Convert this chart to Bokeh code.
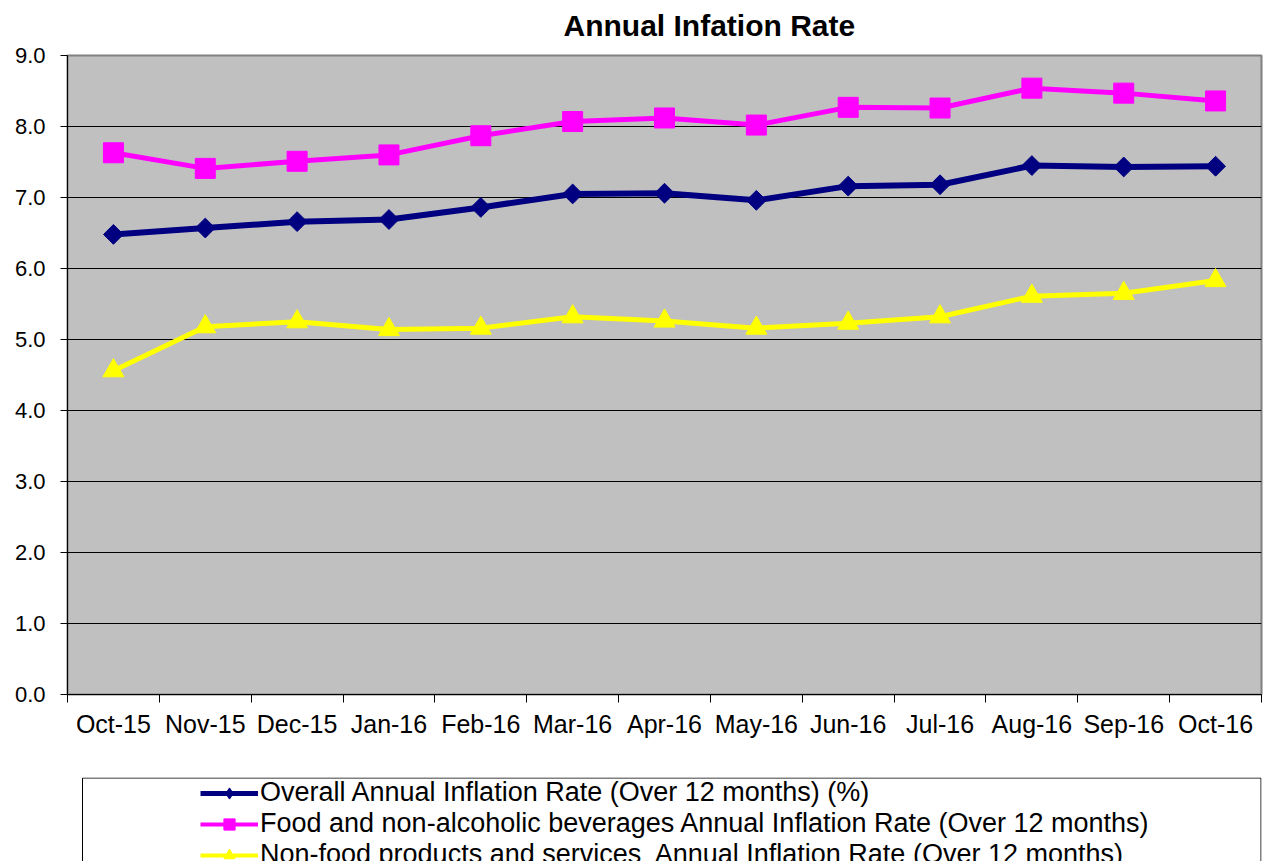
import numpy as np
from bokeh.plotting import figure
from bokeh.layouts import column
from bokeh.models import (Range1d, FixedTicker, Legend, LegendItem, BoxAnnotation,
                          NumeralTickFormatter, Title)
from bokeh.embed import file_html
from bokeh.resources import INLINE

# ---- data ----
months = ["Oct-15", "Nov-15", "Dec-15", "Jan-16", "Feb-16", "Mar-16", "Apr-16",
          "May-16", "Jun-16", "Jul-16", "Aug-16", "Sep-16", "Oct-16"]
overall = [6.48, 6.57, 6.66, 6.69, 6.86, 7.05, 7.06, 6.96, 7.16, 7.18, 7.45, 7.43, 7.44]
food = [7.63, 7.41, 7.51, 7.60, 7.87, 8.07, 8.12, 8.02, 8.27, 8.26, 8.54, 8.47, 8.36]
nonfood = [4.56, 5.18, 5.25, 5.14, 5.16, 5.32, 5.26, 5.16, 5.23, 5.32, 5.61, 5.65, 5.83]
y_ticks = [0, 1, 2, 3, 4, 5, 6, 7, 8, 9]
series_labels = [
    "Overall Annual Inflation Rate (Over 12 months) (%)",
    "Food and non-alcoholic beverages Annual Inflation Rate (Over 12 months)",
    "Non-food products and services  Annual Inflation Rate (Over 12 months)",
]
title_text = "Annual Infation Rate"

FONT = "Liberation Sans"
NAVY, MAGENTA, YELLOW = "#000080", "#FF00FF", "#FFFF00"

# layout constants (pixels)
W = 1264
BORDER_L, BORDER_R = 67, 3
FRAME_W = W - BORDER_L - BORDER_R

x = [i + 0.5 for i in range(len(months))]

# ---------------- main chart ----------------
p = figure(width=W, height=740, output_backend="svg", toolbar_location=None,
           x_range=Range1d(0, len(months)), y_range=Range1d(0, 9),
           min_border_left=BORDER_L, min_border_right=BORDER_R, min_border_top=55,
           min_border_bottom=44)

p.background_fill_color = "#C0C0C0"
p.border_fill_color = "white"
p.outline_line_color = "#808080"
p.outline_line_width = 2

# default title kept empty; a thin spacer lifts the real title a little
p.title.text = ""
p.title.text_font_size = "1px"
p.title.standoff = 0
p.add_layout(Title(text=" ", text_font_size="1px", standoff=11), "above")
p.add_layout(Title(text=title_text, align="left", offset=496, text_font=FONT,
                   text_font_size="30px", text_font_style="bold",
                   text_color="black", vertical_align="bottom", standoff=0),
             "above")

xa = p.xaxis[0]
xa.ticker = FixedTicker(ticks=x, minor_ticks=list(range(len(months) + 1)))
xa.major_label_overrides = {xv: m for xv, m in zip(x, months)}
xa.major_tick_line_color = None
xa.minor_tick_line_color = "black"
xa.minor_tick_in = 0
xa.minor_tick_out = 8
xa.axis_line_color = "black"
xa.major_label_text_font = FONT
xa.major_label_text_font_size = "25px"
xa.major_label_text_color = "black"
xa.major_label_standoff = 7

ya = p.yaxis[0]
ya.ticker = FixedTicker(ticks=y_ticks)
ya.formatter = NumeralTickFormatter(format="0.0")
ya.major_tick_in = 0
ya.major_tick_out = 7
ya.minor_tick_line_color = None
ya.axis_line_color = "black"
ya.major_label_text_font = FONT
ya.major_label_text_font_size = "22px"
ya.major_label_text_color = "black"
ya.major_label_standoff = 15

p.xgrid.grid_line_color = None
p.ygrid.ticker = FixedTicker(ticks=y_ticks[1:-1])
p.ygrid.grid_line_color = "black"
p.ygrid.grid_line_width = 1

styles = [
    dict(color=NAVY, lw=6, marker="square", angle=np.pi / 4, size=14, lmarker="diamond"),
    dict(color=MAGENTA, lw=5, marker="square", angle=0.0, size=20, lmarker="square"),
    dict(color=YELLOW, lw=5, marker="triangle", angle=0.0, size=21, lmarker="triangle"),
]
for ys, st in zip([overall, food, nonfood], styles):
    p.line(x, ys, line_color=st["color"], line_width=st["lw"])
    p.scatter(x, ys, marker=st["marker"], angle=st["angle"], size=st["size"],
              fill_color=st["color"], line_color=st["color"])

# ---------------- legend panel ----------------
P2_H, P2_TOP = 121, 37
FRAME_H2 = P2_H - P2_TOP
p2 = figure(width=W, height=P2_H, output_backend="svg", toolbar_location=None,
            x_range=Range1d(0, FRAME_W), y_range=Range1d(0, FRAME_H2),
            x_axis_location=None, y_axis_location=None,
            min_border_left=BORDER_L, min_border_right=BORDER_R,
            min_border_top=P2_TOP, min_border_bottom=0)
p2.outline_line_color = None
p2.background_fill_color = "white"
p2.border_fill_color = "white"
p2.grid.grid_line_color = None

# legend frame (pixel-scaled ranges of the legend panel)
box = BoxAnnotation(left=15, right=FRAME_W - 0.5, top=FRAME_H2 - 0.5, bottom=-50,
                    fill_alpha=0, line_color="black", line_width=1, line_alpha=1)
p2.add_layout(box)

items = []
for label, st in zip(series_labels, styles):
    lr = p2.line(x=[np.nan], y=[np.nan], line_color=st["color"],
                 line_width=st["lw"] - 1)
    sr = p2.scatter(x=[np.nan], y=[np.nan], marker=st["lmarker"],
                    fill_color=st["color"], line_color=st["color"])
    items.append(LegendItem(label=label, renderers=[lr, sr]))

legend = Legend(items=items, location=(133, -9))
legend.padding = 0
legend.margin = 0
legend.spacing = 0
legend.glyph_width = 58
legend.glyph_height = 28
legend.label_height = 28
legend.label_standoff = 2
legend.label_text_font = FONT
legend.label_text_font_size = "27px"
legend.label_text_color = "black"
legend.border_line_color = None
legend.background_fill_alpha = 0
p2.add_layout(legend)

layout = column(p, p2, spacing=0)
open("out.html", "w").write(file_html(layout, INLINE))
